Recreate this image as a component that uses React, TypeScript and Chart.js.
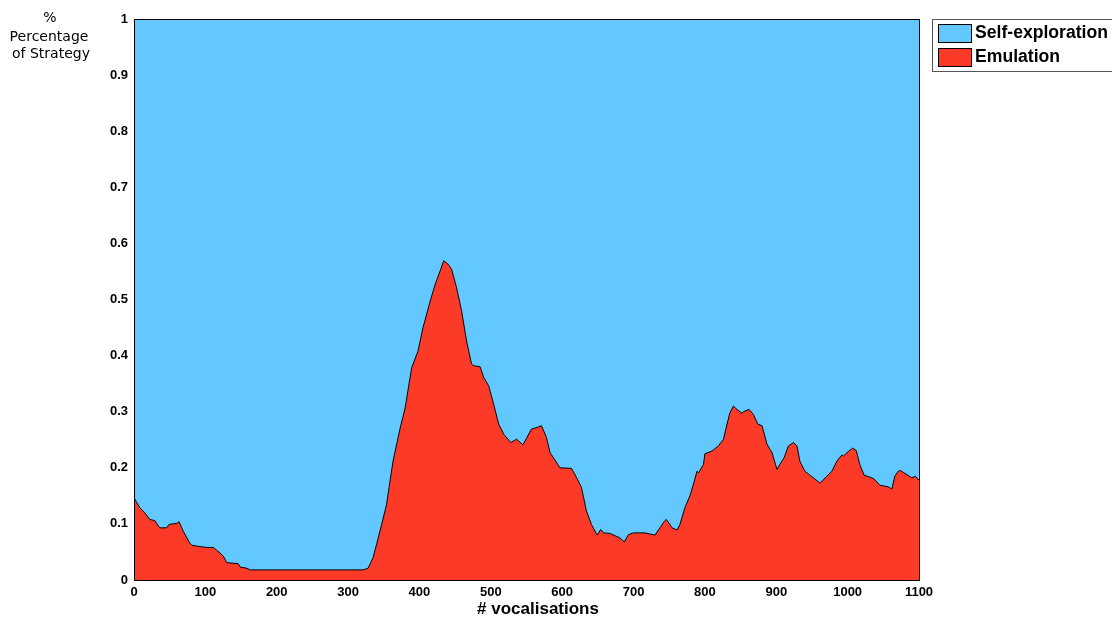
import React, { useEffect, useRef } from "react";
import { Chart, registerables } from "chart.js";

Chart.register(...registerables);

// # vocalisations (x positions of the sampled curve)
const vocalisations = [
  0, 3, 8, 15, 22, 29, 36, 46, 49, 60, 63, 69, 78, 81, 90, 102, 111, 116, 125, 130,
  146, 149, 158, 163, 200, 250, 300, 321, 328, 335, 340, 347, 354, 358, 363, 373, 380, 389, 398, 405,
  415, 422, 429, 434, 440, 445, 452, 459, 466, 473, 476, 485, 490, 497, 504, 511, 518, 528, 536, 545,
  557, 565, 571, 578, 583, 597, 613, 620, 627, 634, 641, 649, 654, 658, 667, 681, 687, 693, 700, 716,
  730, 737, 744, 746, 754, 761, 765, 772, 779, 784, 789, 791, 798, 800, 810, 819, 826, 831, 835, 840,
  845, 852, 854, 862, 868, 874, 880, 887, 894, 901, 905, 911, 917, 924, 929, 933, 940, 947, 961, 964,
  971, 978, 985, 992, 994, 1001, 1007, 1012, 1017, 1023, 1034, 1037, 1045, 1057, 1062, 1066, 1071, 1074, 1083, 1090,
  1095, 1100,
];

// Share of the Emulation strategy
const emulation = [
  0.147, 0.14, 0.129, 0.12, 0.108, 0.106, 0.093, 0.093, 0.099, 0.101, 0.104, 0.087, 0.066, 0.062, 0.06, 0.058, 0.058, 0.053, 0.043, 0.031,
  0.029, 0.023, 0.021, 0.018, 0.018, 0.018, 0.018, 0.018, 0.021, 0.04, 0.064, 0.099, 0.135, 0.17, 0.212, 0.271, 0.307, 0.378, 0.408, 0.45,
  0.497, 0.527, 0.551, 0.569, 0.563, 0.554, 0.521, 0.48, 0.426, 0.385, 0.382, 0.38, 0.361, 0.346, 0.313, 0.278, 0.26, 0.245, 0.251, 0.241,
  0.269, 0.272, 0.275, 0.254, 0.227, 0.2, 0.199, 0.183, 0.165, 0.123, 0.099, 0.08, 0.09, 0.084, 0.083, 0.075, 0.068, 0.081, 0.084, 0.084,
  0.08, 0.093, 0.106, 0.108, 0.093, 0.089, 0.099, 0.129, 0.15, 0.171, 0.194, 0.191, 0.206, 0.225, 0.23, 0.239, 0.251, 0.278, 0.298, 0.31,
  0.304, 0.297, 0.3, 0.304, 0.295, 0.278, 0.275, 0.242, 0.227, 0.197, 0.206, 0.218, 0.239, 0.245, 0.239, 0.212, 0.194, 0.187, 0.173, 0.176,
  0.185, 0.194, 0.212, 0.223, 0.221, 0.229, 0.235, 0.231, 0.206, 0.187, 0.182, 0.18, 0.169, 0.166, 0.162, 0.185, 0.194, 0.195, 0.188, 0.182,
  0.185, 0.178,
];

const seriesNames = ["Self-exploration", "Emulation"];
const yTitleLines = ["%", "Percentage", "of Strategy"];
const xTitle = "# vocalisations";

const BLUE = "#63C8FF";
const RED = "#FB3B27";

export default function App() {
  const ref = useRef<HTMLCanvasElement | null>(null);

  useEffect(() => {
    const canvas = ref.current;
    if (!canvas) return;

    const emulData = vocalisations.map((x, i) => ({ x, y: emulation[i] }));
    const selfData = vocalisations.map((x, i) => ({ x, y: 1 - emulation[i] }));

    const decor = {
      id: "decor",
      afterDraw(chart: any) {
        const { ctx, chartArea } = chart;
        ctx.save();
        // plot border
        ctx.strokeStyle = "#000";
        ctx.lineWidth = 1;
        ctx.strokeRect(
          Math.round(chartArea.left) + 0.5,
          Math.round(chartArea.top) + 0.5,
          Math.round(chartArea.right - chartArea.left),
          Math.round(chartArea.bottom - chartArea.top)
        );
        // y title
        ctx.fillStyle = "#000";
        ctx.textAlign = "center";
        ctx.textBaseline = "middle";
        ctx.font = "14px 'DejaVu Sans', sans-serif";
        ctx.fillText(yTitleLines[0], 50, 18);
        ctx.fillText(yTitleLines[1], 49, 37);
        ctx.fillText(yTitleLines[2], 51, 54);
        // x title
        ctx.font = "bold 17px 'Liberation Sans', Arial, sans-serif";
        ctx.fillText(xTitle, 538, 609);
        // legend
        ctx.fillStyle = "#fff";
        ctx.fillRect(932.5, 19.5, 200, 52);
        ctx.strokeStyle = "#555";
        ctx.strokeRect(932.5, 19.5, 200, 52);
        const colors = [BLUE, RED];
        const ys = [24, 48];
        for (let i = 0; i < 2; i++) {
          ctx.fillStyle = colors[i];
          ctx.fillRect(938.5, ys[i] + 0.5, 33, 18);
          ctx.strokeStyle = "#000";
          ctx.strokeRect(938.5, ys[i] + 0.5, 33, 18);
          ctx.fillStyle = "#000";
          ctx.textAlign = "left";
          ctx.font = "bold 17.6px 'Liberation Sans', Arial, sans-serif";
          ctx.fillText(seriesNames[i], 975, ys[i] + 9.5);
        }
        ctx.restore();
      },
    };

    const chart = new Chart(canvas, {
      type: "line",
      data: {
        datasets: [
          {
            label: seriesNames[1],
            data: emulData,
            backgroundColor: RED,
            borderColor: "#000",
            borderWidth: 1,
            pointRadius: 0,
            fill: "origin",
            tension: 0,
            order: 1,
          },
          {
            label: seriesNames[0],
            data: selfData,
            backgroundColor: BLUE,
            borderColor: BLUE,
            borderWidth: 0,
            pointRadius: 0,
            fill: "-1",
            tension: 0,
            order: 2,
          },
        ],
      },
      plugins: [decor],
      options: {
        animation: false,
        responsive: false,
        maintainAspectRatio: false,
        layout: { padding: { left: 0, top: 19, right: 193, bottom: 0 } },
        plugins: {
          legend: { display: false },
          tooltip: { enabled: false },
          title: { display: false },
        },
        scales: {
          x: {
            type: "linear",
            min: 0,
            max: 1100,
            grid: { display: false, drawTicks: false },
            border: { display: false },
            afterFit: (s: any) => {
              s.height = 37;
            },
            ticks: {
              stepSize: 100,
              padding: 5,
              color: "#000",
              font: { family: "'Liberation Sans', Arial, sans-serif", size: 13, weight: "bold" },
              maxRotation: 0,
              autoSkip: false,
              callback: (v: any) => String(Math.round(Number(v))),
            },
          },
          y: {
            stacked: true,
            min: 0,
            max: 1,
            grid: { display: false, drawTicks: false },
            border: { display: false },
            afterFit: (s: any) => {
              s.width = 134;
            },
            ticks: {
              stepSize: 0.1,
              padding: 6,
              color: "#000",
              font: { family: "'Liberation Sans', Arial, sans-serif", size: 13, weight: "bold" },
              callback: (v: any) => String(Number(Number(v).toFixed(1))),
            },
          },
        },
      },
    });

    return () => chart.destroy();
  }, []);

  return (
    <div style={{ position: "absolute", left: 0, top: 0, width: 1112, height: 617, overflow: "hidden", background: "#fff" }}>
      <canvas ref={ref} width={1112} height={617} style={{ display: "block", width: 1112, height: 617 }} />
    </div>
  );
}
